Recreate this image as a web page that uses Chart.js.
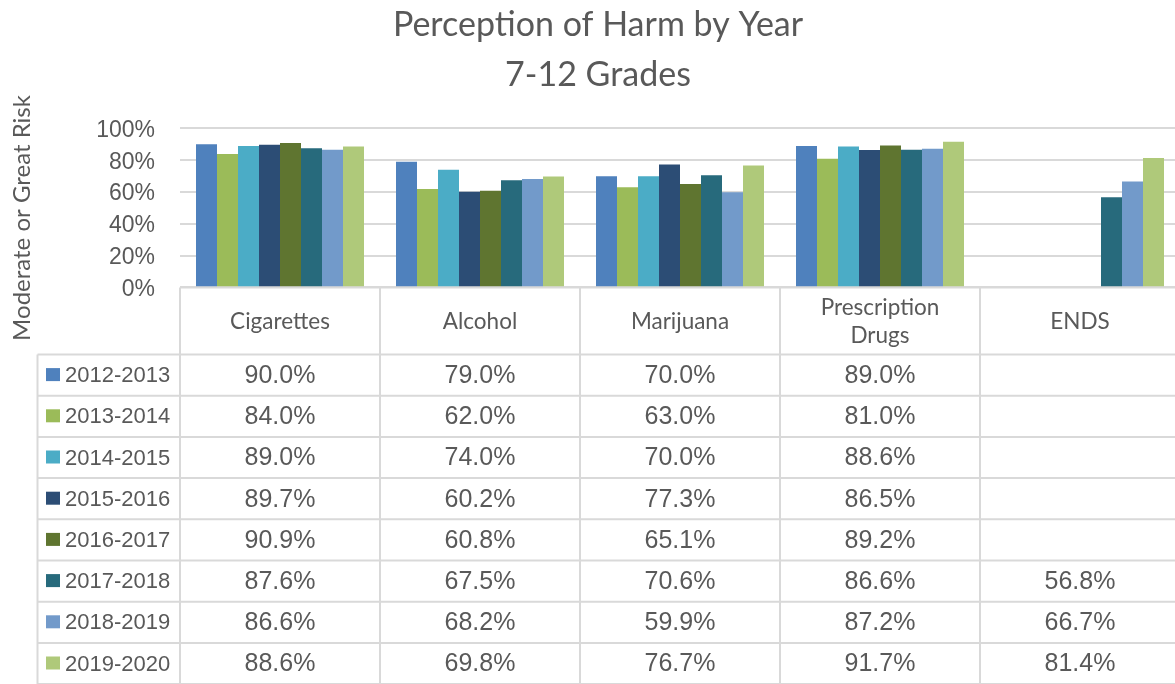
<!DOCTYPE html>
<html><head><meta charset="utf-8">
<script src="https://cdn.jsdelivr.net/npm/chart.js@4"></script>
<style>html,body{margin:0;padding:0;background:#fff;overflow:hidden;}canvas{display:block;}</style>
</head><body>
<canvas id="c" width="1180" height="684"></canvas>
<script>
// ---- data ----
const categories = ['Cigarettes', 'Alcohol', 'Marijuana', ['Prescription', 'Drugs'], 'ENDS'];
const seriesNames = ['2012-2013', '2013-2014', '2014-2015', '2015-2016', '2016-2017', '2017-2018', '2018-2019', '2019-2020'];
const y2012 = [90.0, 79.0, 70.0, 89.0, null];
const y2013 = [84.0, 62.0, 63.0, 81.0, null];
const y2014 = [89.0, 74.0, 70.0, 88.6, null];
const y2015 = [89.7, 60.2, 77.3, 86.5, null];
const y2016 = [90.9, 60.8, 65.1, 89.2, null];
const y2017 = [87.6, 67.5, 70.6, 86.6, 56.8];
const y2018 = [86.6, 68.2, 59.9, 87.2, 66.7];
const y2019 = [88.6, 69.8, 76.7, 91.7, 81.4];
const yTicks = [0, 20, 40, 60, 80, 100];
const yAxisTitle = 'Moderate or Great Risk';
const seriesColors = ['#4f81bd', '#9bbb59', '#4bacc6', '#2c4d75', '#5f7530', '#276a7c', '#729aca', '#afc97a'];
const seriesValues = [y2012, y2013, y2014, y2015, y2016, y2017, y2018, y2019];

const TEXT = '#595959';
const LINE = '#d9d9d9';

const tablePlugin = {
  id: 'dataTable',
  afterDraw(chart) {
    const ctx = chart.ctx, xs = chart.scales.x, area = chart.chartArea;
    const n = categories.length;
    const colW = xs.getPixelForValue(1) - xs.getPixelForValue(0);
    const left = xs.getPixelForValue(0) - colW / 2;
    const top = area.bottom;
    const headBottom = 354.5;
    const rowH = 41.2;
    const legendLeft = 37.5;
    const bottom = chart.height + 5;
    ctx.save();
    // y axis title
    ctx.fillStyle = TEXT;
    ctx.font = '24px Lato';
    ctx.textAlign = 'center';
    ctx.textBaseline = 'middle';
    ctx.translate(22, 218);
    ctx.rotate(-Math.PI / 2);
    ctx.fillText(yAxisTitle, 0, 0);
    ctx.setTransform(1, 0, 0, 1, 0, 0);

    ctx.strokeStyle = LINE;
    ctx.lineWidth = 2;
    ctx.beginPath();
    ctx.moveTo(left, top); ctx.lineTo(chart.width, top);
    for (let r = 0; r <= seriesNames.length; r++) {
      const y = headBottom + r * rowH;
      ctx.moveTo(legendLeft, y); ctx.lineTo(chart.width, y);
    }
    ctx.moveTo(legendLeft, headBottom); ctx.lineTo(legendLeft, bottom);
    for (let c = 0; c <= n; c++) {
      const x = left + c * colW;
      ctx.moveTo(x, top); ctx.lineTo(x, bottom);
    }
    ctx.stroke();

    // header
    ctx.fillStyle = TEXT;
    ctx.textAlign = 'center';
    ctx.textBaseline = 'middle';
    ctx.font = '22.5px Lato';
    const hc = (top + headBottom) / 2 + 1;
    categories.forEach((lab, i) => {
      const cx = xs.getPixelForValue(i);
      if (Array.isArray(lab)) {
        const lh = 28;
        lab.forEach((l, k) => ctx.fillText(l, cx, hc + (k - (lab.length - 1) / 2) * lh));
      } else {
        ctx.fillText(lab, cx, hc);
      }
    });
    // rows
    seriesNames.forEach((name, r) => {
      const cy = headBottom + r * rowH + rowH / 2;
      ctx.fillStyle = seriesColors[r];
      ctx.fillRect(46, cy - 7, 14, 13);
      ctx.fillStyle = TEXT;
      ctx.textAlign = 'left';
      ctx.font = '22px "Liberation Sans"';
      ctx.fillText(name, 65, cy + 1);
      ctx.textAlign = 'center';
      ctx.font = '25px "Liberation Sans"';
      seriesValues[r].forEach((v, i) => {
        if (v === null || v === undefined) return;
        ctx.fillText(v.toFixed(1) + '%', xs.getPixelForValue(i), cy + 1);
      });
    });
    ctx.restore();
  }
};

new Chart(document.getElementById('c'), {
  type: 'bar',
  data: {
    labels: categories,
    datasets: seriesNames.map((name, i) => ({
      label: name,
      data: seriesValues[i],
      backgroundColor: seriesColors[i],
      borderWidth: 0,
      categoryPercentage: 0.84,
      barPercentage: 1.0
    }))
  },
  options: {
    responsive: false,
    animation: false,
    layout: { padding: { top: 0, left: 16, right: 0, bottom: 396.5 } },
    plugins: {
      legend: { display: false },
      tooltip: { enabled: false },
      title: {
        display: true,
        text: ['Perception of Harm by Year', '7-12 Grades'],
        color: TEXT,
        font: { family: 'Lato', size: 34, weight: 'normal', lineHeight: 1.48 },
        padding: { top: 0, bottom: 27.8 }
      }
    },
    scales: {
      x: { display: false },
      y: {
        min: 0, max: 100,
        afterFit(scale) { scale.width = 164; },
        afterBuildTicks(scale) { scale.ticks = yTicks.map(v => ({ value: v })); },
        ticks: {
          color: TEXT,
          padding: 25,
          labelOffset: 2,
          font: { family: 'Liberation Sans', size: 23 },
          callback: v => v + '%'
        },
        grid: { color: LINE, lineWidth: 2, drawTicks: false },
        border: { display: false },
        title: { display: false }
      }
    }
  },
  plugins: [tablePlugin]
});
</script>
</body></html>
